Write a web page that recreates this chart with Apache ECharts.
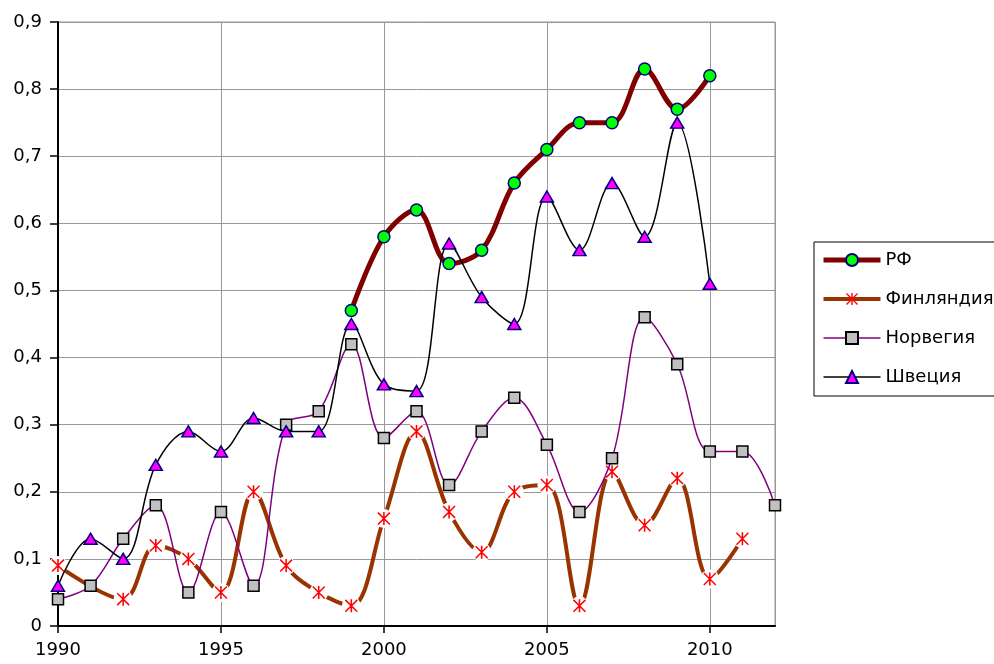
<!DOCTYPE html>
<html>
<head>
<meta charset="utf-8">
<script src="https://cdn.jsdelivr.net/npm/echarts@6/dist/echarts.min.js"></script>
<style>html,body{margin:0;padding:0;background:#fff}#c{width:994px;height:664px}</style>
</head>
<body>
<div id="c"></div>
<script>
const rfYears = [1999,2000,2001,2002,2003,2004,2005,2006,2007,2008,2009,2010];
const rfValues = [0.47,0.58,0.62,0.54,0.56,0.66,0.71,0.75,0.75,0.83,0.77,0.82];
const finYears = [1990,1992,1993,1994,1995,1996,1997,1998,1999,2000,2001,2002,2003,2004,2005,2006,2007,2008,2009,2010,2011];
const finValues = [0.09,0.04,0.12,0.10,0.05,0.20,0.09,0.05,0.03,0.16,0.29,0.17,0.11,0.20,0.21,0.03,0.23,0.15,0.22,0.07,0.13];
const norYears = [1990,1991,1992,1993,1994,1995,1996,1997,1998,1999,2000,2001,2002,2003,2004,2005,2006,2007,2008,2009,2010,2011,2012];
const norValues = [0.04,0.06,0.13,0.18,0.05,0.17,0.06,0.30,0.32,0.42,0.28,0.32,0.21,0.29,0.34,0.27,0.17,0.25,0.46,0.39,0.26,0.26,0.18];
const sweYears = [1990,1991,1992,1993,1994,1995,1996,1997,1998,1999,2000,2001,2002,2003,2004,2005,2006,2007,2008,2009,2010];
const sweValues = [0.06,0.13,0.10,0.24,0.29,0.26,0.31,0.29,0.29,0.45,0.36,0.35,0.57,0.49,0.45,0.64,0.56,0.66,0.58,0.75,0.51];
const seriesNames = ['РФ','Финляндия','Норвегия','Швеция'];

const pairs = (xs, ys) => xs.map((x, i) => [x, ys[i]]);
const FONT = 'DejaVu Sans';
const STAR = 'path://M4.4 0 L5.6 0 L5.6 10 L4.4 10 Z M0.8 0 L10 9.2 L9.2 10 L0 0.8 Z M9.2 0 L10 0.8 L0.8 10 L0 9.2 Z';
const SMOOTH = 0.35;
const lineColors = ['#800000', '#993300', '#800080', '#000000'];
const lineWidths = [5, 4, 1.5, 1.5];

const chart = echarts.init(document.getElementById('c'), null, {renderer: 'canvas'});
chart.setOption({
  animation: false,
  backgroundColor: '#fff',
  grid: {left: 58, top: 22, right: 219, bottom: 38, show: true, borderColor: '#999', borderWidth: 1},
  xAxis: {
    type: 'value', min: 1990, max: 2012, interval: 5,
    axisLine: {show: true, onZero: false, lineStyle: {color: '#000', width: 2}},
    axisTick: {show: true, length: 7, lineStyle: {color: '#000', width: 1.5}},
    axisLabel: {color: '#000', fontSize: 18, fontFamily: FONT, margin: 15, showMaxLabel: false,
      formatter: v => (v % 5 === 0 ? String(v) : '')},
    splitLine: {show: true, lineStyle: {color: '#999', width: 1}}
  },
  yAxis: {
    type: 'value', min: 0, max: 0.9, interval: 0.1,
    axisLine: {show: true, lineStyle: {color: '#000', width: 2}},
    axisTick: {show: true, length: 8, lineStyle: {color: '#000', width: 1.5}},
    axisLabel: {color: '#000', fontSize: 18, fontFamily: FONT, margin: 16,
      formatter: v => (Math.round(v * 10) / 10).toString().replace('.', ',')},
    splitLine: {show: true, lineStyle: {color: '#999', width: 1}}
  },
  legend: {
    data: seriesNames.map((n, i) => ({name: n, lineStyle: {color: lineColors[i], width: lineWidths[i]}})),
    orient: 'vertical', left: 814, top: 242,
    padding: [9, 20, 10, 7],
    itemWidth: 57, itemHeight: 15, itemGap: 21,
    borderColor: '#000', borderWidth: 1,
    textStyle: {color: '#000', fontSize: 18, fontFamily: FONT}
  },
  series: [
    {
      name: seriesNames[0], type: 'line', data: pairs(rfYears, rfValues), smooth: SMOOTH,
      lineStyle: {color: lineColors[0], width: lineWidths[0]},
      symbol: 'circle', symbolSize: 12,
      itemStyle: {color: '#00ff00', borderColor: '#000080', borderWidth: 1.5},
      z: 2
    },
    {
      name: seriesNames[1], type: 'line', data: pairs(finYears, finValues), smooth: SMOOTH,
      lineStyle: {color: lineColors[1], width: lineWidths[1]},
      symbol: STAR, symbolSize: 13, showSymbol: false,
      itemStyle: {color: '#ff0000'},
      z: 2
    },
    {
      name: 'finBg', type: 'scatter', data: pairs(finYears, finValues), silent: true,
      symbol: 'circle', symbolSize: 19, itemStyle: {color: '#ffffff', opacity: 1}, z: 3
    },
    {
      name: 'finMarks', type: 'scatter', data: pairs(finYears, finValues), silent: true,
      symbol: STAR, symbolSize: 13, itemStyle: {color: '#ff0000', opacity: 1}, z: 4
    },
    {
      name: seriesNames[2], type: 'line', data: pairs(norYears, norValues), smooth: SMOOTH,
      lineStyle: {color: lineColors[2], width: lineWidths[2]},
      symbol: 'rect', symbolSize: 11,
      itemStyle: {color: '#c0c0c0', borderColor: '#000', borderWidth: 1.5},
      z: 5
    },
    {
      name: seriesNames[3], type: 'line', data: pairs(sweYears, sweValues), smooth: SMOOTH,
      lineStyle: {color: lineColors[3], width: lineWidths[3]},
      symbol: 'triangle', symbolSize: [13, 11],
      itemStyle: {color: '#ff00ff', borderColor: '#000080', borderWidth: 1.5},
      z: 6
    }
  ]
});
</script>
</body>
</html>
